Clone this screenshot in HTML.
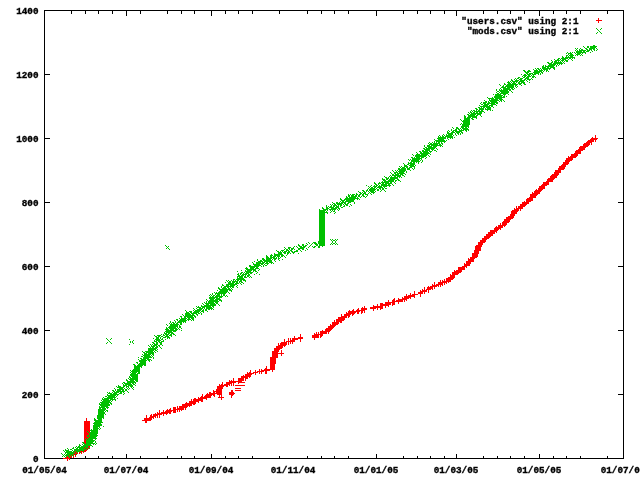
<!DOCTYPE html>
<html><head><meta charset="utf-8"><title>plot</title>
<style>
html,body{margin:0;padding:0;background:#fff;}
svg{display:block;}
text{font-family:"Liberation Mono",monospace;font-size:9.3px;font-weight:bold;fill:#000;stroke:#000;stroke-width:0.35px;}
</style></head><body>
<svg width="640" height="480" viewBox="0 0 640 480" shape-rendering="crispEdges">
<rect width="640" height="480" fill="#fff"/>
<rect x="44.5" y="10.5" width="579" height="448" fill="none" stroke="#000" stroke-width="1"/>
<path d="M71.5 10.5v3.5M71.5 458.5v-2.5M85.5 10.5v3.5M85.5 458.5v-2.5M98.5 10.5v3.5M98.5 458.5v-2.5M112.5 10.5v3.5M112.5 458.5v-2.5M140.5 10.5v3.5M140.5 458.5v-2.5M167.5 10.5v3.5M167.5 458.5v-2.5M181.5 10.5v3.5M181.5 458.5v-2.5M194.5 10.5v3.5M194.5 458.5v-2.5M225.5 10.5v3.5M225.5 458.5v-2.5M238.5 10.5v3.5M238.5 458.5v-2.5M252.5 10.5v3.5M252.5 458.5v-2.5M279.5 10.5v3.5M279.5 458.5v-2.5M307.5 10.5v3.5M307.5 458.5v-2.5M321.5 10.5v3.5M321.5 458.5v-2.5M334.5 10.5v3.5M334.5 458.5v-2.5M348.5 10.5v3.5M348.5 458.5v-2.5M403.5 10.5v3.5M403.5 458.5v-2.5M417.5 10.5v3.5M417.5 458.5v-2.5M430.5 10.5v3.5M430.5 458.5v-2.5M444.5 10.5v3.5M444.5 458.5v-2.5M483.5 10.5v3.5M483.5 458.5v-2.5M497.5 10.5v3.5M497.5 458.5v-2.5M510.5 10.5v3.5M510.5 458.5v-2.5M524.5 10.5v3.5M524.5 458.5v-2.5M553.5 10.5v3.5M553.5 458.5v-2.5M566.5 10.5v3.5M566.5 458.5v-2.5M580.5 10.5v3.5M580.5 458.5v-2.5M607.5 10.5v3.5M607.5 458.5v-2.5M126.5 10.5v5.5M126.5 458.5v-4.5M211.5 10.5v5.5M211.5 458.5v-4.5M376.5 10.5v5.5M376.5 458.5v-4.5M456.5 10.5v5.5M456.5 458.5v-4.5M539.5 10.5v5.5M539.5 458.5v-4.5M44.5 394.5h5.5M623.5 394.5h-5.5M44.5 330.5h5.5M623.5 330.5h-5.5M44.5 266.5h5.5M623.5 266.5h-5.5M44.5 202.5h5.5M623.5 202.5h-5.5M44.5 138.5h5.5M623.5 138.5h-5.5M44.5 74.5h5.5M623.5 74.5h-5.5" stroke="#000" stroke-width="1" fill="none"/>
<g shape-rendering="auto" text-rendering="optimizeLegibility">
<text x="38.5" y="461.5" text-anchor="end">0</text>
<text x="38.5" y="397.5" text-anchor="end">200</text>
<text x="38.5" y="333.5" text-anchor="end">400</text>
<text x="38.5" y="269.5" text-anchor="end">600</text>
<text x="38.5" y="205.5" text-anchor="end">800</text>
<text x="38.5" y="141.5" text-anchor="end">1000</text>
<text x="38.5" y="77.5" text-anchor="end">1200</text>
<text x="38.5" y="13.5" text-anchor="end">1400</text>
<text x="44.5" y="472.7" text-anchor="middle">01/05/04</text>
<text x="126.0" y="472.7" text-anchor="middle">01/07/04</text>
<text x="211.0" y="472.7" text-anchor="middle">01/09/04</text>
<text x="293.0" y="472.7" text-anchor="middle">01/11/04</text>
<text x="376.0" y="472.7" text-anchor="middle">01/01/05</text>
<text x="456.0" y="472.7" text-anchor="middle">01/03/05</text>
<text x="539.0" y="472.7" text-anchor="middle">01/05/05</text>
<text x="623.0" y="472.7" text-anchor="middle">01/07/05</text>
<text x="578.5" y="23.5" text-anchor="end">"users.csv" using 2:1</text>
<text x="578.5" y="34.1" text-anchor="end">"mods.csv" using 2:1</text>
</g>
<path d="M598 18.5h1M598 19.5h1M596 20.5h6M598 21.5h1M598 22.5h1M595 135.5h1M595 136.5h1M592 137.5h1M595 137.5h1M591 138.5h7M590 139.5h7M588 140.5h6M595 140.5h1M587 141.5h7M595 141.5h1M586 142.5h6M584 143.5h6M591 143.5h1M583 144.5h7M591 144.5h1M583 145.5h6M580 146.5h8M579 147.5h7M579 148.5h6M578 149.5h7M576 150.5h7M575 151.5h6M575 152.5h6M574 153.5h7M571 154.5h7M571 155.5h7M568 156.5h1M570 156.5h7M568 157.5h8M566 158.5h7M566 159.5h7M565 160.5h7M565 161.5h5M563 162.5h6M563 163.5h6M562 164.5h6M561 165.5h5M559 166.5h7M559 167.5h6M558 168.5h7M558 169.5h6M555 170.5h6M555 171.5h6M554 172.5h7M554 173.5h5M552 174.5h7M551 175.5h7M550 176.5h7M550 177.5h7M548 178.5h7M547 179.5h7M547 180.5h6M546 181.5h7M543 182.5h6M543 183.5h6M542 184.5h7M541 185.5h6M539 186.5h6M539 187.5h6M538 188.5h7M536 189.5h1M538 189.5h5M535 190.5h7M534 191.5h7M532 192.5h1M534 192.5h6M532 193.5h8M530 194.5h8M530 195.5h7M530 196.5h6M529 197.5h7M527 198.5h6M526 199.5h7M526 200.5h7M524 201.5h1M526 201.5h5M522 202.5h7M522 203.5h7M520 204.5h7M520 205.5h6M516 206.5h1M518 206.5h7M516 207.5h1M518 207.5h5M514 208.5h1M516 208.5h7M514 209.5h5M520 209.5h1M512 210.5h7M520 210.5h1M511 211.5h7M511 212.5h6M511 213.5h6M510 214.5h5M510 215.5h5M508 216.5h6M506 217.5h8M506 218.5h7M504 219.5h7M504 220.5h6M503 221.5h7M502 222.5h7M500 223.5h1M502 223.5h5M500 224.5h1M502 224.5h5M498 225.5h8M496 226.5h1M498 226.5h5M504 226.5h1M495 227.5h8M494 228.5h7M494 229.5h5M500 229.5h1M490 230.5h8M490 231.5h7M488 232.5h7M496 232.5h1M488 233.5h7M486 234.5h7M486 235.5h7M484 236.5h7M484 237.5h6M482 238.5h7M482 239.5h5M480 240.5h6M480 241.5h6M478 242.5h7M478 243.5h5M478 244.5h5M476 245.5h6M475 246.5h7M475 247.5h6M475 248.5h6M475 249.5h6M474 250.5h7M474 251.5h5M474 252.5h5M472 253.5h7M472 254.5h6M472 255.5h6M472 256.5h6M470 257.5h7M468 258.5h1M470 258.5h5M468 259.5h6M468 260.5h6M466 261.5h8M466 262.5h5M464 263.5h1M466 263.5h5M464 264.5h6M464 265.5h6M462 266.5h5M458 267.5h7M466 267.5h1M458 268.5h7M458 269.5h7M454 270.5h1M456 270.5h6M454 271.5h8M452 272.5h9M452 273.5h7M450 274.5h1M452 274.5h6M450 275.5h5M450 276.5h5M448 277.5h7M446 278.5h8M444 279.5h1M446 279.5h7M440 280.5h1M442 280.5h1M444 280.5h1M446 280.5h5M440 281.5h1M442 281.5h9M434 282.5h1M438 282.5h9M448 282.5h1M434 283.5h1M438 283.5h5M444 283.5h1M446 283.5h1M432 284.5h1M434 284.5h1M436 284.5h7M444 284.5h1M432 285.5h7M440 285.5h1M442 285.5h1M428 286.5h1M430 286.5h7M438 286.5h1M440 286.5h1M424 287.5h1M427 287.5h6M434 287.5h1M424 288.5h1M427 288.5h6M434 288.5h1M422 289.5h1M424 289.5h1M426 289.5h5M432 289.5h1M420 290.5h1M422 290.5h5M428 290.5h1M414 291.5h1M420 291.5h7M428 291.5h1M414 292.5h1M418 292.5h5M424 292.5h1M428 292.5h1M410 293.5h1M414 293.5h1M418 293.5h5M424 293.5h1M406 294.5h1M410 294.5h1M412 294.5h6M420 294.5h1M406 295.5h1M408 295.5h7M420 295.5h1M404 296.5h11M420 296.5h1M402 297.5h1M404 297.5h7M414 297.5h1M394 298.5h1M398 298.5h1M402 298.5h7M410 298.5h1M393 299.5h2M398 299.5h9M388 300.5h1M392 300.5h3M396 300.5h7M404 300.5h1M406 300.5h1M388 301.5h1M392 301.5h11M404 301.5h1M385 302.5h10M398 302.5h1M380 303.5h3M385 303.5h6M392 303.5h3M398 303.5h1M377 304.5h1M380 304.5h11M392 304.5h3M373 305.5h1M377 305.5h1M380 305.5h9M392 305.5h1M364 306.5h1M373 306.5h10M385 306.5h1M388 306.5h1M362 307.5h1M364 307.5h1M370 307.5h13M385 307.5h1M358 308.5h1M361 308.5h6M370 308.5h6M377 308.5h1M380 308.5h3M353 309.5h1M357 309.5h2M361 309.5h6M373 309.5h1M377 309.5h1M380 309.5h1M349 310.5h1M352 310.5h2M356 310.5h9M373 310.5h1M348 311.5h12M361 311.5h2M364 311.5h1M346 312.5h1M348 312.5h8M357 312.5h2M361 312.5h2M364 312.5h1M346 313.5h9M357 313.5h2M361 313.5h1M341 314.5h1M344 314.5h7M352 314.5h2M341 315.5h1M344 315.5h6M352 315.5h1M341 316.5h6M348 316.5h2M338 317.5h9M348 317.5h1M338 318.5h7M336 319.5h9M334 320.5h1M336 320.5h8M334 321.5h1M336 321.5h6M332 322.5h7M340 322.5h2M332 323.5h7M330 324.5h1M332 324.5h6M330 325.5h6M328 326.5h7M328 327.5h6M326 328.5h7M325 329.5h7M322 330.5h1M325 330.5h6M320 331.5h10M316 332.5h1M318 332.5h1M320 332.5h7M328 332.5h1M314 333.5h1M316 333.5h1M318 333.5h1M320 333.5h7M328 333.5h1M300 334.5h1M314 334.5h9M300 335.5h1M312 335.5h7M320 335.5h3M294 336.5h1M300 336.5h1M312 336.5h7M320 336.5h2M294 337.5h1M298 337.5h5M312 337.5h7M320 337.5h1M288 338.5h1M290 338.5h1M292 338.5h11M314 338.5h1M284 339.5h1M288 339.5h1M290 339.5h1M292 339.5h6M300 339.5h1M314 339.5h1M284 340.5h1M288 340.5h1M290 340.5h5M300 340.5h1M284 341.5h1M286 341.5h9M300 341.5h1M281 342.5h6M288 342.5h1M290 342.5h1M292 342.5h1M278 343.5h1M280 343.5h7M288 343.5h1M290 343.5h1M292 343.5h1M278 344.5h1M280 344.5h7M288 344.5h1M278 345.5h8M276 346.5h7M284 346.5h1M276 347.5h7M274 348.5h8M274 349.5h6M274 350.5h5M281 350.5h1M272 351.5h7M281 351.5h1M272 352.5h6M281 352.5h1M272 353.5h12M272 354.5h6M281 354.5h1M272 355.5h6M281 355.5h1M272 356.5h6M270 357.5h8M270 358.5h6M270 359.5h6M270 360.5h6M270 361.5h6M270 362.5h6M270 363.5h6M270 364.5h5M270 365.5h5M266 366.5h1M270 366.5h5M266 367.5h1M270 367.5h5M265 368.5h2M270 368.5h5M259 369.5h1M261 369.5h1M264 369.5h11M250 370.5h1M255 370.5h1M259 370.5h1M261 370.5h9M272 370.5h1M250 371.5h1M255 371.5h1M257 371.5h7M265 371.5h2M272 371.5h1M247 372.5h1M249 372.5h2M253 372.5h5M259 372.5h1M261 372.5h1M265 372.5h2M247 373.5h7M255 373.5h1M259 373.5h1M261 373.5h1M265 373.5h2M245 374.5h7M255 374.5h1M243 375.5h1M245 375.5h6M241 376.5h10M241 377.5h7M249 377.5h1M233 378.5h1M238 378.5h6M245 378.5h3M233 379.5h1M238 379.5h6M245 379.5h1M229 380.5h1M231 380.5h1M233 380.5h1M238 380.5h6M245 380.5h1M229 381.5h13M222 382.5h1M226 382.5h10M238 382.5h7M222 383.5h1M226 383.5h6M233 383.5h1M238 383.5h1M219 384.5h1M221 384.5h2M224 384.5h6M231 384.5h1M233 384.5h1M219 385.5h9M229 385.5h1M231 385.5h1M233 385.5h1M235 385.5h10M217 386.5h7M226 386.5h2M217 387.5h6M217 388.5h6M235 388.5h6M216 389.5h6M213 390.5h1M216 390.5h6M231 390.5h2M235 390.5h6M213 391.5h9M231 391.5h2M209 392.5h2M213 392.5h2M216 392.5h6M229 392.5h5M207 393.5h1M209 393.5h13M229 393.5h6M202 394.5h1M206 394.5h9M217 394.5h5M229 394.5h5M202 395.5h1M205 395.5h7M213 395.5h2M219 395.5h1M221 395.5h1M231 395.5h2M201 396.5h2M204 396.5h7M214 396.5h1M219 396.5h1M221 396.5h1M231 396.5h1M198 397.5h1M200 397.5h11M218 397.5h6M231 397.5h1M194 398.5h2M198 398.5h9M221 398.5h1M191 399.5h1M193 399.5h10M206 399.5h1M221 399.5h1M191 400.5h1M193 400.5h10M189 401.5h10M201 401.5h2M186 402.5h1M189 402.5h7M198 402.5h1M185 403.5h11M182 404.5h10M193 404.5h2M182 405.5h10M177 406.5h1M179 406.5h9M189 406.5h1M173 407.5h3M177 407.5h1M179 407.5h8M170 408.5h1M173 408.5h3M177 408.5h7M185 408.5h1M167 409.5h1M169 409.5h2M173 409.5h11M185 409.5h1M159 410.5h1M163 410.5h1M166 410.5h10M177 410.5h1M179 410.5h1M181 410.5h1M159 411.5h1M163 411.5h1M165 411.5h7M173 411.5h3M177 411.5h1M179 411.5h1M157 412.5h1M159 412.5h1M161 412.5h10M173 412.5h3M155 413.5h1M157 413.5h11M169 413.5h2M151 414.5h1M153 414.5h9M163 414.5h1M166 414.5h1M146 415.5h1M150 415.5h2M153 415.5h5M159 415.5h1M163 415.5h1M146 416.5h1M150 416.5h6M157 416.5h1M159 416.5h1M146 417.5h1M149 417.5h5M155 417.5h1M157 417.5h1M159 417.5h1M86 418.5h1M144 418.5h8M153 418.5h1M86 419.5h1M144 419.5h8M86 420.5h1M142 420.5h9M84 421.5h6M145 421.5h2M84 422.5h6M145 422.5h2M84 423.5h6M84 424.5h6M84 425.5h6M84 426.5h6M84 427.5h6M84 428.5h6M84 429.5h6M84 430.5h6M84 431.5h3M88 431.5h2M84 432.5h4M89 432.5h1M84 433.5h5M84 434.5h5M84 435.5h3M89 435.5h1M84 436.5h3M89 436.5h1M84 437.5h5M84 438.5h2M87 438.5h1M84 439.5h1M86 439.5h1M84 440.5h2M84 441.5h2M84 442.5h2M85 443.5h1M88 446.5h2M85 447.5h1M89 447.5h1M84 448.5h1M87 448.5h2M86 449.5h1M84 450.5h3M75 451.5h1M80 451.5h3M84 451.5h2M74 452.5h1M76 452.5h1M79 452.5h1M81 452.5h1M83 452.5h1M75 453.5h3M79 453.5h1M81 453.5h1M73 454.5h3M69 455.5h1M71 455.5h1M75 455.5h1M67 456.5h1M70 456.5h1M73 456.5h1M75 456.5h1M66 457.5h3M70 457.5h2M73 457.5h1M63 458.5h7M67 459.5h1M69 459.5h1M67 460.5h1" stroke="#ff0000" stroke-width="1" fill="none"/>
<path d="M596 28.5h1M601 28.5h1M597 29.5h1M600 29.5h1M598 30.5h1M599 31.5h1M597 32.5h1M600 32.5h1M596 33.5h1M601 33.5h1M593 45.5h2M583 46.5h1M587 46.5h2M590 46.5h7M584 47.5h1M587 47.5h2M590 47.5h6M575 48.5h1M577 48.5h1M580 48.5h1M585 48.5h2M589 48.5h6M596 48.5h1M576 49.5h1M579 49.5h1M581 49.5h2M586 49.5h2M589 49.5h3M593 49.5h2M597 49.5h1M575 50.5h1M577 50.5h1M579 50.5h7M587 50.5h3M591 50.5h1M594 50.5h1M596 50.5h1M576 51.5h6M583 51.5h2M586 51.5h3M592 51.5h1M567 52.5h1M570 52.5h1M572 52.5h1M574 52.5h1M576 52.5h10M590 52.5h1M566 53.5h1M568 53.5h4M575 53.5h1M577 53.5h4M582 53.5h1M585 53.5h1M568 54.5h1M570 54.5h3M576 54.5h4M581 54.5h1M566 55.5h2M569 55.5h5M575 55.5h1M577 55.5h1M580 55.5h1M582 55.5h1M562 56.5h1M566 56.5h1M568 56.5h1M570 56.5h3M562 57.5h2M565 57.5h10M558 58.5h2M561 58.5h7M569 58.5h2M572 58.5h1M574 58.5h1M554 59.5h1M557 59.5h2M560 59.5h1M562 59.5h4M568 59.5h1M571 59.5h1M551 60.5h1M555 60.5h5M561 60.5h3M565 60.5h3M572 60.5h1M552 61.5h1M554 61.5h3M558 61.5h1M560 61.5h1M562 61.5h1M564 61.5h1M566 61.5h2M547 62.5h2M551 62.5h2M554 62.5h8M563 62.5h1M548 63.5h4M553 63.5h10M564 63.5h1M549 64.5h7M557 64.5h1M559 64.5h1M561 64.5h1M543 65.5h1M545 65.5h1M548 65.5h7M556 65.5h1M558 65.5h1M542 66.5h2M545 66.5h9M556 66.5h1M542 67.5h4M547 67.5h2M550 67.5h5M535 68.5h1M537 68.5h2M540 68.5h1M542 68.5h9M553 68.5h2M533 69.5h1M536 69.5h1M538 69.5h2M541 69.5h1M543 69.5h5M549 69.5h1M554 69.5h1M523 70.5h2M528 70.5h2M534 70.5h4M539 70.5h4M544 70.5h1M546 70.5h2M524 71.5h2M527 71.5h4M534 71.5h8M543 71.5h1M546 71.5h1M548 71.5h1M525 72.5h4M533 72.5h7M541 72.5h2M526 73.5h2M529 73.5h4M534 73.5h5M540 73.5h1M542 73.5h1M521 74.5h1M524 74.5h2M527 74.5h4M532 74.5h4M538 74.5h1M540 74.5h1M523 75.5h4M528 75.5h2M531 75.5h1M533 75.5h1M522 76.5h1M524 76.5h2M527 76.5h4M532 76.5h3M518 77.5h2M523 77.5h2M526 77.5h3M532 77.5h2M535 77.5h1M515 78.5h1M517 78.5h2M520 78.5h3M525 78.5h4M531 78.5h1M511 79.5h1M514 79.5h1M516 79.5h1M519 79.5h3M524 79.5h2M527 79.5h4M532 79.5h1M511 80.5h2M515 80.5h4M520 80.5h5M526 80.5h1M529 80.5h1M508 81.5h1M510 81.5h1M512 81.5h6M519 81.5h5M527 81.5h1M507 82.5h3M511 82.5h1M513 82.5h2M516 82.5h1M518 82.5h2M521 82.5h4M529 82.5h1M504 83.5h1M508 83.5h3M512 83.5h4M518 83.5h4M523 83.5h2M499 84.5h1M504 84.5h2M507 84.5h11M519 84.5h2M524 84.5h2M500 85.5h1M503 85.5h1M506 85.5h8M515 85.5h2M521 85.5h1M502 86.5h2M505 86.5h9M515 86.5h1M517 86.5h1M501 87.5h5M507 87.5h7M516 87.5h1M500 88.5h1M503 88.5h7M511 88.5h2M514 88.5h1M496 89.5h1M499 89.5h1M501 89.5h1M503 89.5h8M512 89.5h2M496 90.5h1M499 90.5h9M509 90.5h2M497 91.5h2M500 91.5h9M511 91.5h1M496 92.5h1M499 92.5h1M501 92.5h8M512 92.5h1M497 93.5h2M500 93.5h8M493 94.5h1M495 94.5h6M503 94.5h3M508 94.5h1M495 95.5h8M504 95.5h1M494 96.5h8M503 96.5h2M506 96.5h1M487 97.5h1M492 97.5h1M494 97.5h11M488 98.5h6M495 98.5h7M489 99.5h1M491 99.5h7M499 99.5h4M484 100.5h1M489 100.5h10M500 100.5h2M503 100.5h1M485 101.5h2M488 101.5h1M490 101.5h7M499 101.5h1M501 101.5h1M504 101.5h1M481 102.5h1M483 102.5h4M488 102.5h2M491 102.5h7M480 103.5h1M483 103.5h3M487 103.5h8M496 103.5h2M481 104.5h2M484 104.5h5M491 104.5h5M479 105.5h1M483 105.5h5M489 105.5h4M496 105.5h1M480 106.5h10M491 106.5h2M478 107.5h2M481 107.5h1M483 107.5h2M486 107.5h5M493 107.5h1M475 108.5h2M479 108.5h5M485 108.5h1M487 108.5h4M476 109.5h2M479 109.5h5M485 109.5h6M471 110.5h1M473 110.5h2M476 110.5h1M478 110.5h2M481 110.5h2M487 110.5h1M490 110.5h1M492 110.5h1M470 111.5h1M472 111.5h1M474 111.5h10M468 112.5h1M470 112.5h2M473 112.5h2M476 112.5h2M479 112.5h3M484 112.5h1M469 113.5h1M471 113.5h11M467 114.5h2M470 114.5h6M477 114.5h4M464 115.5h1M468 115.5h7M476 115.5h2M480 115.5h1M464 116.5h2M468 116.5h9M481 116.5h1M464 117.5h2M467 117.5h4M472 117.5h5M464 118.5h6M471 118.5h2M476 118.5h1M460 119.5h1M464 119.5h6M472 119.5h2M461 120.5h1M463 120.5h7M462 121.5h8M463 122.5h7M461 123.5h1M463 123.5h7M460 124.5h1M462 124.5h8M462 125.5h7M461 126.5h8M452 127.5h1M456 127.5h2M461 127.5h3M465 127.5h2M468 127.5h1M453 128.5h1M456 128.5h3M460 128.5h1M462 128.5h6M451 129.5h1M455 129.5h2M458 129.5h2M461 129.5h1M463 129.5h6M448 130.5h1M451 130.5h1M453 130.5h4M459 130.5h5M465 130.5h2M468 130.5h1M447 131.5h1M449 131.5h1M452 131.5h2M455 131.5h7M466 131.5h1M447 132.5h2M451 132.5h4M456 132.5h4M461 132.5h2M447 133.5h6M455 133.5h1M457 133.5h2M460 133.5h1M462 133.5h1M443 134.5h1M446 134.5h1M448 134.5h5M455 134.5h1M458 134.5h1M460 134.5h1M439 135.5h1M442 135.5h1M444 135.5h1M446 135.5h6M453 135.5h1M456 135.5h1M438 136.5h1M440 136.5h1M442 136.5h2M445 136.5h8M438 137.5h8M447 137.5h6M454 137.5h1M437 138.5h9M447 138.5h1M450 138.5h1M452 138.5h1M434 139.5h1M438 139.5h6M448 139.5h1M435 140.5h10M446 140.5h1M434 141.5h1M436 141.5h10M429 142.5h1M432 142.5h1M434 142.5h1M436 142.5h1M438 142.5h2M441 142.5h1M444 142.5h1M428 143.5h1M430 143.5h2M433 143.5h7M441 143.5h2M429 144.5h9M439 144.5h2M442 144.5h1M424 145.5h1M427 145.5h3M431 145.5h11M424 146.5h1M427 146.5h5M433 146.5h4M440 146.5h1M442 146.5h1M425 147.5h2M428 147.5h8M423 148.5h2M426 148.5h9M436 148.5h1M424 149.5h6M431 149.5h3M437 149.5h1M422 150.5h2M425 150.5h5M432 150.5h1M434 150.5h2M419 151.5h2M422 151.5h6M429 151.5h3M436 151.5h1M416 152.5h1M420 152.5h2M423 152.5h6M430 152.5h1M417 153.5h1M420 153.5h10M412 154.5h1M416 154.5h4M421 154.5h7M430 154.5h1M413 155.5h1M415 155.5h12M428 155.5h1M415 156.5h11M429 156.5h1M411 157.5h2M414 157.5h1M416 157.5h4M421 157.5h3M426 157.5h1M412 158.5h10M425 158.5h1M408 159.5h1M410 159.5h1M412 159.5h8M421 159.5h1M409 160.5h1M411 160.5h8M420 160.5h1M422 160.5h1M411 161.5h9M422 161.5h1M408 162.5h1M410 162.5h2M413 162.5h2M416 162.5h1M418 162.5h1M421 162.5h1M403 163.5h1M408 163.5h7M418 163.5h1M404 164.5h1M407 164.5h2M410 164.5h5M404 165.5h3M409 165.5h5M415 165.5h1M399 166.5h1M401 166.5h1M404 166.5h4M410 166.5h5M400 167.5h1M402 167.5h3M406 167.5h2M409 167.5h3M414 167.5h1M398 168.5h2M401 168.5h5M407 168.5h3M412 168.5h1M414 168.5h1M398 169.5h8M407 169.5h3M413 169.5h1M392 170.5h1M395 170.5h1M397 170.5h1M399 170.5h7M410 170.5h1M393 171.5h1M396 171.5h1M398 171.5h7M406 171.5h1M390 172.5h1M394 172.5h4M399 172.5h5M406 172.5h1M391 173.5h1M394 173.5h2M397 173.5h8M392 174.5h2M395 174.5h4M400 174.5h3M405 174.5h1M390 175.5h1M392 175.5h9M402 175.5h2M384 176.5h1M389 176.5h1M391 176.5h1M394 176.5h2M397 176.5h4M404 176.5h1M385 177.5h2M388 177.5h1M390 177.5h8M399 177.5h1M401 177.5h1M382 178.5h1M386 178.5h3M390 178.5h8M382 179.5h3M386 179.5h2M389 179.5h6M397 179.5h2M383 180.5h3M388 180.5h6M395 180.5h2M398 180.5h2M382 181.5h1M384 181.5h10M395 181.5h1M400 181.5h1M374 182.5h1M379 182.5h1M381 182.5h8M390 182.5h2M394 182.5h1M374 183.5h2M378 183.5h3M382 183.5h2M385 183.5h7M395 183.5h1M375 184.5h2M378 184.5h1M381 184.5h6M388 184.5h2M392 184.5h1M366 185.5h1M371 185.5h1M374 185.5h1M376 185.5h2M379 185.5h1M381 185.5h10M393 185.5h1M368 186.5h1M370 186.5h1M373 186.5h4M378 186.5h4M383 186.5h4M389 186.5h1M369 187.5h1M371 187.5h2M374 187.5h2M377 187.5h6M384 187.5h1M368 188.5h1M370 188.5h5M376 188.5h1M379 188.5h2M382 188.5h2M385 188.5h2M367 189.5h1M369 189.5h7M377 189.5h2M380 189.5h1M382 189.5h2M362 190.5h2M366 190.5h2M369 190.5h6M377 190.5h2M381 190.5h1M384 190.5h1M358 191.5h1M363 191.5h2M366 191.5h1M368 191.5h1M370 191.5h4M375 191.5h1M380 191.5h1M385 191.5h1M359 192.5h2M362 192.5h1M364 192.5h2M369 192.5h1M371 192.5h4M356 193.5h1M360 193.5h2M363 193.5h3M368 193.5h1M370 193.5h1M373 193.5h1M348 194.5h1M350 194.5h1M352 194.5h3M356 194.5h2M359 194.5h2M362 194.5h2M365 194.5h3M371 194.5h1M348 195.5h2M351 195.5h3M355 195.5h2M358 195.5h2M362 195.5h2M367 195.5h1M346 196.5h1M348 196.5h2M351 196.5h6M358 196.5h2M361 196.5h1M363 196.5h2M366 196.5h1M346 197.5h2M349 197.5h7M357 197.5h1M360 197.5h1M365 197.5h1M340 198.5h1M345 198.5h14M340 199.5h2M344 199.5h11M357 199.5h1M359 199.5h1M341 200.5h4M346 200.5h8M340 201.5h1M342 201.5h2M345 201.5h9M332 202.5h1M336 202.5h2M339 202.5h1M341 202.5h5M348 202.5h3M354 202.5h1M333 203.5h2M336 203.5h7M344 203.5h2M347 203.5h2M354 203.5h1M330 204.5h1M332 204.5h1M334 204.5h2M337 204.5h5M343 204.5h1M345 204.5h3M350 204.5h1M326 205.5h1M331 205.5h1M333 205.5h4M338 205.5h1M340 205.5h2M344 205.5h1M346 205.5h2M351 205.5h1M326 206.5h1M328 206.5h1M330 206.5h2M333 206.5h2M336 206.5h3M340 206.5h1M343 206.5h2M349 206.5h1M322 207.5h1M326 207.5h2M329 207.5h5M335 207.5h4M341 207.5h2M322 208.5h2M326 208.5h3M331 208.5h6M338 208.5h2M319 209.5h1M323 209.5h5M329 209.5h7M337 209.5h1M339 209.5h1M319 210.5h7M327 210.5h1M330 210.5h1M332 210.5h1M334 210.5h1M338 210.5h1M319 211.5h6M326 211.5h1M331 211.5h1M333 211.5h2M319 212.5h9M330 212.5h1M335 212.5h1M319 213.5h6M327 213.5h1M334 213.5h1M319 214.5h6M319 215.5h6M319 216.5h6M319 217.5h6M319 218.5h6M319 219.5h6M319 220.5h6M319 221.5h6M319 222.5h6M319 223.5h6M319 224.5h6M319 225.5h6M319 226.5h6M319 227.5h6M319 228.5h6M319 229.5h6M319 230.5h6M319 231.5h6M319 232.5h6M319 233.5h6M319 234.5h6M319 235.5h6M319 236.5h6M319 237.5h6M319 238.5h6M319 239.5h6M330 239.5h1M332 239.5h1M335 239.5h1M337 239.5h1M319 240.5h6M331 240.5h1M333 240.5h2M336 240.5h1M318 241.5h7M332 241.5h1M335 241.5h1M308 242.5h1M313 242.5h3M318 242.5h7M332 242.5h1M335 242.5h1M306 243.5h1M309 243.5h1M312 243.5h1M314 243.5h3M318 243.5h7M331 243.5h1M333 243.5h2M336 243.5h1M298 244.5h1M302 244.5h2M307 244.5h1M311 244.5h1M315 244.5h3M319 244.5h6M330 244.5h1M332 244.5h1M335 244.5h1M337 244.5h1M165 245.5h1M298 245.5h2M302 245.5h2M305 245.5h2M310 245.5h1M316 245.5h2M319 245.5h6M166 246.5h1M168 246.5h1M294 246.5h1M296 246.5h1M299 246.5h3M303 246.5h3M309 246.5h1M312 246.5h1M314 246.5h2M318 246.5h2M322 246.5h1M167 247.5h1M284 247.5h1M288 247.5h3M293 247.5h1M297 247.5h1M300 247.5h5M308 247.5h1M313 247.5h2M318 247.5h2M166 248.5h1M168 248.5h1M285 248.5h1M288 248.5h2M291 248.5h3M298 248.5h6M306 248.5h1M169 249.5h1M284 249.5h1M286 249.5h2M289 249.5h1M291 249.5h2M294 249.5h1M298 249.5h2M302 249.5h2M307 249.5h1M276 250.5h1M281 250.5h3M286 250.5h3M290 250.5h2M296 250.5h2M300 250.5h1M305 250.5h1M277 251.5h2M280 251.5h1M282 251.5h1M284 251.5h3M288 251.5h2M291 251.5h2M294 251.5h4M301 251.5h1M278 252.5h4M283 252.5h3M287 252.5h3M292 252.5h3M274 253.5h1M278 253.5h4M284 253.5h2M287 253.5h2M290 253.5h1M293 253.5h1M298 253.5h1M271 254.5h1M274 254.5h9M287 254.5h1M266 255.5h1M270 255.5h3M274 255.5h6M281 255.5h3M286 255.5h1M266 256.5h2M270 256.5h2M273 256.5h3M277 256.5h3M281 256.5h2M284 256.5h1M266 257.5h3M270 257.5h5M276 257.5h1M278 257.5h1M280 257.5h1M285 257.5h1M262 258.5h2M266 258.5h6M273 258.5h4M278 258.5h2M257 259.5h1M262 259.5h3M266 259.5h5M272 259.5h1M274 259.5h2M278 259.5h1M282 259.5h1M257 260.5h1M260 260.5h2M263 260.5h9M274 260.5h1M279 260.5h1M254 261.5h1M258 261.5h5M264 261.5h8M275 261.5h1M252 262.5h1M256 262.5h5M262 262.5h3M266 262.5h2M269 262.5h4M253 263.5h1M256 263.5h8M265 263.5h4M271 263.5h1M273 263.5h1M253 264.5h7M261 264.5h2M264 264.5h1M267 264.5h1M249 265.5h2M254 265.5h7M263 265.5h1M265 265.5h2M249 266.5h10M261 266.5h1M263 266.5h1M246 267.5h1M250 267.5h5M256 267.5h2M245 268.5h3M250 268.5h4M255 268.5h4M246 269.5h10M259 269.5h1M241 270.5h1M245 270.5h1M247 270.5h5M253 270.5h3M258 270.5h1M237 271.5h1M245 271.5h6M253 271.5h1M255 271.5h2M241 272.5h2M244 272.5h1M246 272.5h7M257 272.5h1M238 273.5h1M240 273.5h2M243 273.5h1M245 273.5h4M250 273.5h2M256 273.5h1M237 274.5h2M240 274.5h1M242 274.5h5M248 274.5h2M254 274.5h1M259 274.5h1M238 275.5h2M241 275.5h3M245 275.5h1M247 275.5h3M237 276.5h6M244 276.5h2M247 276.5h2M250 276.5h1M237 277.5h1M239 277.5h4M244 277.5h3M249 277.5h1M251 277.5h1M237 278.5h7M233 279.5h2M236 279.5h9M226 280.5h1M228 280.5h1M231 280.5h1M233 280.5h1M235 280.5h1M237 280.5h2M240 280.5h2M243 280.5h3M227 281.5h1M229 281.5h2M232 281.5h6M239 281.5h3M245 281.5h1M225 282.5h1M228 282.5h3M232 282.5h3M236 282.5h2M239 282.5h1M241 282.5h2M228 283.5h6M235 283.5h4M240 283.5h1M243 283.5h1M222 284.5h1M226 284.5h11M241 284.5h1M222 285.5h2M226 285.5h3M230 285.5h5M237 285.5h1M221 286.5h1M224 286.5h10M236 286.5h1M218 287.5h1M221 287.5h1M223 287.5h3M227 287.5h2M230 287.5h1M232 287.5h2M237 287.5h1M218 288.5h2M222 288.5h5M228 288.5h2M231 288.5h1M219 289.5h12M232 289.5h1M217 290.5h1M220 290.5h8M229 290.5h3M219 291.5h9M231 291.5h1M214 292.5h1M216 292.5h1M218 292.5h9M228 292.5h1M212 293.5h1M215 293.5h11M229 293.5h1M210 294.5h1M212 294.5h1M215 294.5h1M217 294.5h3M221 294.5h1M223 294.5h2M209 295.5h1M211 295.5h1M213 295.5h2M216 295.5h4M221 295.5h1M223 295.5h2M226 295.5h1M210 296.5h1M212 296.5h2M215 296.5h8M225 296.5h1M227 296.5h1M209 297.5h9M219 297.5h3M209 298.5h6M216 298.5h4M206 299.5h1M210 299.5h4M215 299.5h6M207 300.5h1M209 300.5h9M219 300.5h3M206 301.5h1M208 301.5h11M221 301.5h1M204 302.5h1M206 302.5h1M208 302.5h6M215 302.5h3M202 303.5h1M205 303.5h10M216 303.5h2M203 304.5h1M206 304.5h3M210 304.5h6M218 304.5h1M201 305.5h1M204 305.5h12M219 305.5h1M196 306.5h1M198 306.5h1M201 306.5h10M212 306.5h2M197 307.5h4M202 307.5h3M206 307.5h6M213 307.5h1M193 308.5h1M196 308.5h1M199 308.5h4M204 308.5h1M206 308.5h7M194 309.5h1M197 309.5h5M203 309.5h1M205 309.5h2M208 309.5h2M211 309.5h1M213 309.5h1M185 310.5h1M193 310.5h1M195 310.5h6M202 310.5h2M205 310.5h2M186 311.5h1M189 311.5h3M194 311.5h6M201 311.5h3M207 311.5h1M186 312.5h3M190 312.5h2M193 312.5h6M200 312.5h1M203 312.5h1M185 313.5h5M191 313.5h6M198 313.5h2M201 313.5h1M182 314.5h1M185 314.5h6M192 314.5h2M196 314.5h2M201 314.5h1M183 315.5h1M185 315.5h10M197 315.5h1M180 316.5h2M184 316.5h9M194 316.5h2M181 317.5h1M184 317.5h2M187 317.5h7M195 317.5h1M179 318.5h1M181 318.5h6M188 318.5h2M191 318.5h3M176 319.5h2M180 319.5h6M187 319.5h4M192 319.5h2M174 320.5h1M177 320.5h1M179 320.5h8M188 320.5h1M191 320.5h1M193 320.5h1M170 321.5h1M175 321.5h1M178 321.5h8M170 322.5h1M172 322.5h2M175 322.5h1M177 322.5h5M183 322.5h1M185 322.5h1M169 323.5h1M171 323.5h1M173 323.5h2M176 323.5h2M180 323.5h2M166 324.5h1M170 324.5h9M180 324.5h2M167 325.5h1M170 325.5h8M179 325.5h1M169 326.5h9M179 326.5h2M166 327.5h1M168 327.5h8M177 327.5h1M179 327.5h2M166 328.5h2M169 328.5h8M178 328.5h1M181 328.5h1M165 329.5h4M170 329.5h4M175 329.5h3M179 329.5h1M166 330.5h11M181 330.5h1M165 331.5h7M173 331.5h3M164 332.5h1M166 332.5h7M164 333.5h3M168 333.5h2M171 333.5h3M161 334.5h1M163 334.5h1M165 334.5h4M170 334.5h2M173 334.5h2M154 335.5h1M157 335.5h4M163 335.5h2M166 335.5h2M169 335.5h3M175 335.5h1M155 336.5h2M158 336.5h2M161 336.5h2M165 336.5h4M171 336.5h1M156 337.5h3M160 337.5h1M163 337.5h3M167 337.5h3M106 338.5h1M111 338.5h1M153 338.5h1M156 338.5h3M160 338.5h1M162 338.5h1M167 338.5h1M169 338.5h1M107 339.5h1M110 339.5h1M129 339.5h1M155 339.5h5M161 339.5h2M165 339.5h1M108 340.5h1M133 340.5h1M154 340.5h1M156 340.5h5M163 340.5h1M109 341.5h1M130 341.5h1M132 341.5h1M154 341.5h3M158 341.5h2M161 341.5h3M107 342.5h1M110 342.5h1M130 342.5h1M132 342.5h1M152 342.5h2M156 342.5h2M159 342.5h3M106 343.5h1M111 343.5h1M133 343.5h1M153 343.5h2M156 343.5h2M160 343.5h2M129 344.5h1M150 344.5h1M152 344.5h1M154 344.5h4M160 344.5h2M148 345.5h1M151 345.5h1M153 345.5h4M158 345.5h2M162 345.5h1M149 346.5h1M151 346.5h4M156 346.5h2M159 346.5h1M150 347.5h1M152 347.5h2M155 347.5h3M160 347.5h1M148 348.5h9M161 348.5h1M148 349.5h8M157 349.5h1M148 350.5h6M155 350.5h2M142 351.5h1M145 351.5h8M154 351.5h1M157 351.5h1M143 352.5h2M146 352.5h8M155 352.5h1M144 353.5h3M148 353.5h6M142 354.5h1M144 354.5h7M152 354.5h2M143 355.5h7M151 355.5h1M153 355.5h1M141 356.5h2M144 356.5h7M152 356.5h1M138 357.5h1M143 357.5h9M153 357.5h1M140 358.5h2M143 358.5h6M153 358.5h1M138 359.5h1M141 359.5h5M147 359.5h4M139 360.5h8M148 360.5h2M151 360.5h1M139 361.5h7M149 361.5h1M136 362.5h2M140 362.5h6M137 363.5h1M139 363.5h7M133 364.5h2M138 364.5h8M134 365.5h2M137 365.5h6M144 365.5h2M134 366.5h8M134 367.5h6M141 367.5h1M134 368.5h6M133 369.5h7M130 370.5h1M132 370.5h8M131 371.5h9M130 372.5h1M132 372.5h5M138 372.5h2M131 373.5h5M137 373.5h3M130 374.5h8M130 375.5h8M129 376.5h1M131 376.5h7M129 377.5h2M132 377.5h6M128 378.5h1M130 378.5h8M126 379.5h1M129 379.5h9M126 380.5h2M130 380.5h4M135 380.5h3M127 381.5h8M136 381.5h2M123 382.5h2M127 382.5h9M122 383.5h1M124 383.5h7M132 383.5h2M135 383.5h1M123 384.5h1M125 384.5h7M133 384.5h2M118 385.5h1M123 385.5h4M128 385.5h5M135 385.5h1M116 386.5h1M118 386.5h3M123 386.5h2M126 386.5h3M130 386.5h3M117 387.5h7M126 387.5h1M128 387.5h1M131 387.5h1M133 387.5h1M114 388.5h1M119 388.5h4M124 388.5h1M127 388.5h1M129 388.5h1M132 388.5h1M115 389.5h1M117 389.5h7M125 389.5h2M128 389.5h1M133 389.5h1M112 390.5h2M115 390.5h1M117 390.5h4M122 390.5h2M125 390.5h2M113 391.5h2M116 391.5h9M127 391.5h1M107 392.5h1M109 392.5h1M112 392.5h1M114 392.5h5M120 392.5h2M123 392.5h1M128 392.5h1M108 393.5h4M113 393.5h4M119 393.5h3M124 393.5h1M107 394.5h1M110 394.5h9M123 394.5h1M107 395.5h9M117 395.5h1M105 396.5h2M108 396.5h7M116 396.5h1M103 397.5h1M107 397.5h9M102 398.5h1M104 398.5h9M114 398.5h1M117 398.5h1M102 399.5h7M110 399.5h6M101 400.5h1M103 400.5h8M112 400.5h1M115 400.5h1M102 401.5h8M111 401.5h1M100 402.5h11M99 403.5h1M101 403.5h8M110 403.5h2M99 404.5h11M111 404.5h1M100 405.5h10M99 406.5h1M101 406.5h7M99 407.5h6M106 407.5h3M99 408.5h2M102 408.5h4M107 408.5h1M98 409.5h8M98 410.5h7M106 410.5h2M98 411.5h6M105 411.5h1M107 411.5h1M98 412.5h7M98 413.5h7M98 414.5h6M105 414.5h1M97 415.5h7M97 416.5h7M97 417.5h7M94 418.5h1M97 418.5h5M103 418.5h1M94 419.5h2M98 419.5h4M94 420.5h8M95 421.5h7M94 422.5h9M93 423.5h8M94 424.5h8M93 425.5h9M93 426.5h7M103 426.5h1M93 427.5h5M99 427.5h1M93 428.5h6M100 428.5h1M91 429.5h1M93 429.5h5M99 429.5h1M90 430.5h8M87 431.5h1M91 431.5h7M88 432.5h1M90 432.5h8M89 433.5h9M89 434.5h8M87 435.5h2M90 435.5h8M87 436.5h2M90 436.5h7M89 437.5h7M86 438.5h1M88 438.5h9M85 439.5h1M87 439.5h6M95 439.5h1M86 440.5h9M86 441.5h8M95 441.5h1M82 442.5h2M86 442.5h7M95 442.5h1M83 443.5h2M86 443.5h9M96 443.5h1M79 444.5h1M82 444.5h1M84 444.5h7M93 444.5h1M95 444.5h1M79 445.5h2M83 445.5h9M76 446.5h1M78 446.5h2M81 446.5h7M92 446.5h1M73 447.5h1M75 447.5h1M77 447.5h8M86 447.5h3M67 448.5h1M72 448.5h2M76 448.5h2M79 448.5h5M85 448.5h2M89 448.5h1M65 449.5h1M68 449.5h1M70 449.5h2M74 449.5h12M87 449.5h1M63 450.5h1M65 450.5h4M72 450.5h1M74 450.5h10M64 451.5h1M66 451.5h6M73 451.5h2M76 451.5h4M83 451.5h1M65 452.5h9M75 452.5h1M77 452.5h1M80 452.5h1M61 453.5h1M65 453.5h1M67 453.5h8M62 454.5h1M64 454.5h1M66 454.5h7M76 454.5h1M63 455.5h1M65 455.5h4M70 455.5h1M72 455.5h2M62 456.5h1M64 456.5h1M66 456.5h1M68 456.5h2M71 456.5h1M65 457.5h1M69 457.5h1" stroke="#00c000" stroke-width="1" fill="none"/>
</svg>
</body></html>
